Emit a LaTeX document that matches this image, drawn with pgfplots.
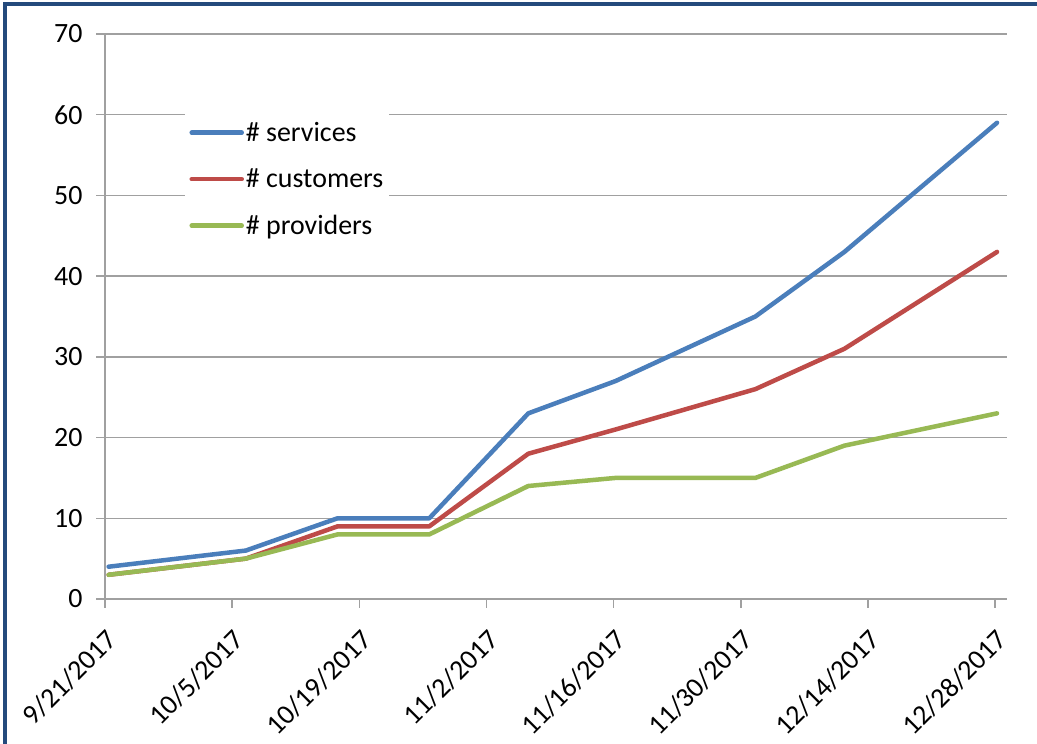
\documentclass[border=0pt]{standalone}
\usepackage{pgfplots}
\pgfplotsset{compat=1.18}
\usepackage{fontspec}
\setmainfont{Carlito}
\definecolor{cblue}{HTML}{4A7EBB}
\definecolor{cred}{HTML}{BE4B48}
\definecolor{cgreen}{HTML}{98B954}
\definecolor{gridc}{HTML}{A0A0A0}
\definecolor{framec}{HTML}{244A7C}
\begin{document}
\begin{tikzpicture}[x=1bp,y=1bp]
\path[use as bounding box] (0,0) rectangle (1037,744);
\fill[white] (0,0) rectangle (1037,744);
\draw[framec, line width=4bp] (5,-5) -- (5,739.5) -- (1045,739.5);
\begin{axis}[
  at={(105bp,145bp)}, anchor=south west,
  width=902bp, height=565bp, scale only axis,
  xmin=0, xmax=99.3, ymin=0, ymax=70,
  axis lines*=left,
  axis line style={gridc, line width=1.5bp},
  ytick={0,10,...,70},
  xtick={0,14,...,98},
  xticklabels={9/21/2017,10/5/2017,10/19/2017,11/2/2017,11/16/2017,11/30/2017,12/14/2017,12/28/2017},
  ymajorgrids,
  grid style={gridc, line width=1.5bp},
  tick align=outside,
  major tick length=9bp,
  tick style={gridc, line width=1.5bp},
  yticklabel style={font=\fontsize{28}{34}\selectfont, text=black, xshift=-10bp},
  xticklabel style={font=\fontsize{28}{34}\selectfont, text=black, yshift=-15bp, rotate=45, anchor=north east},
  /pgf/number format/assume math mode=true,
  legend style={at={(0.089,0.883)}, anchor=north west, draw=none, fill=white,
    font=\fontsize{28}{34}\selectfont, row sep=22bp, inner xsep=4bp, inner ysep=20bp},
  legend cell align=left,
  legend image code/.code={\draw[#1, line cap=round] (0bp,0bp) -- (50bp,0bp);},
  every axis plot/.append style={line width=4.5bp, line cap=round, line join=round},
]
\addplot[cblue] coordinates {(0.4,4)(15.5,6)(25.6,10)(35.7,10)(46.6,23)(56.2,27)(71.6,35)(81.4,43)(98.2,59)};
\addlegendentry{\# services}
\addplot[cred] coordinates {(0.4,3)(15.5,5)(25.6,9)(35.7,9)(46.6,18)(56.2,21)(71.6,26)(81.4,31)(98.2,43)};
\addlegendentry{\# customers}
\addplot[cgreen] coordinates {(0.4,3)(15.5,5)(25.6,8)(35.7,8)(46.6,14)(56.2,15)(71.6,15)(81.4,19)(98.2,23)};
\addlegendentry{\# providers}
\end{axis}
\end{tikzpicture}
\end{document}
